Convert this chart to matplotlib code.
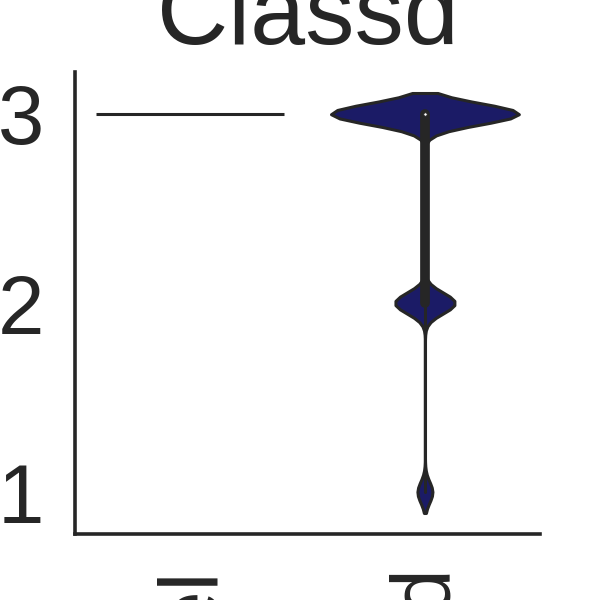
import matplotlib
matplotlib.use("Agg")
import matplotlib.pyplot as plt
import numpy as np
import pandas as pd
import seaborn as sns

# Groups shown on the x axis and the Classd values observed in each
groups = ["Model", "Observed"]
classd_levels = [1, 2, 3]
model_counts = [0, 0, 20]
observed_counts = [2, 8, 25]

fill_color = "#1b1b66"
line_color = "#262626"

sns.set_theme(style="white")
plt.rcParams["font.family"] = ["Liberation Sans", "DejaVu Sans"]

rows = []
for g, counts in zip(groups, [model_counts, observed_counts]):
    for lvl, c in zip(classd_levels, counts):
        rows += [(g, lvl)] * c
df = pd.DataFrame(rows, columns=["group", "Classd"])

fig, ax = plt.subplots(figsize=(6, 6), dpi=100)
sns.violinplot(data=df, x="group", y="Classd", order=groups, color=fill_color,
               saturation=1, linewidth=2.2, linecolor=line_color,
               bw_adjust=0.19, cut=2, inner=None, density_norm="width", ax=ax)

# inner box drawn by hand (quartiles + whisker) for groups with spread
for i, g in enumerate(groups):
    vals = df.loc[df["group"] == g, "Classd"].to_numpy()
    if vals.min() == vals.max():
        continue
    q1, med, q3 = np.percentile(vals, [25, 50, 75])
    iqr = q3 - q1
    lo = vals[vals >= q1 - 1.5 * iqr].min()
    hi = vals[vals <= q3 + 1.5 * iqr].max()
    ax.plot([i, i], [lo, hi], color=line_color, lw=2.2, zorder=3)
    ax.plot([i, i], [q1, q3], color=line_color, lw=7, solid_capstyle="round", zorder=3)
    ax.scatter([i], [med], s=6, color="white", edgecolor=line_color, lw=0.6, zorder=4)

ax.set_title("Classd", fontsize=71, color=line_color, pad=20)
ax.set_xlabel("")
ax.set_ylabel("")
ax.set_yticks(classd_levels)
ax.tick_params(axis="both", labelsize=60, pad=22, length=0, colors=line_color)
plt.setp(ax.get_xticklabels(), rotation=90)
sns.despine(ax=ax)
for s in ("left", "bottom"):
    ax.spines[s].set_linewidth(2.6)
    ax.spines[s].set_color(line_color)

fig.savefig("out.png", dpi=100)
